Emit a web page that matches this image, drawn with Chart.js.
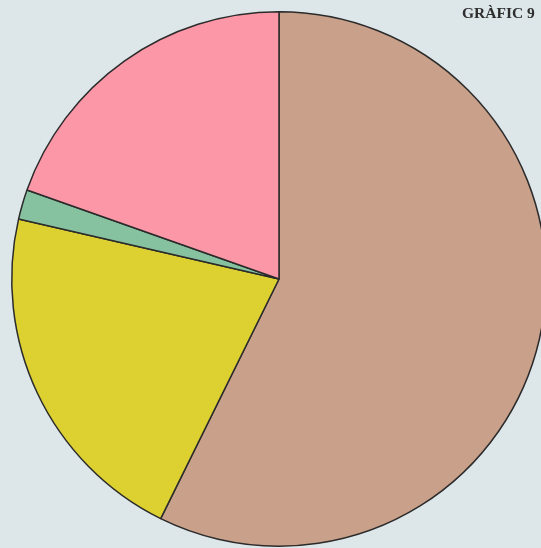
<!DOCTYPE html>
<html lang="ca">
<head>
    <meta charset="UTF-8">
    <title>Gràfic 9</title>
    <script src="https://cdn.jsdelivr.net/npm/chart.js"></script>
    <style>
        html, body { margin: 0; padding: 0; width: 541px; height: 548px; overflow: hidden; background: #dde6e9; }
        #wrap { position: absolute; left: 0; top: 0; width: 558px; height: 558px; }
        #title { position: absolute; left: 462px; top: 4px; font-family: 'Liberation Serif', serif; font-size: 15.5px; font-weight: bold; color: #2e2e2e; white-space: nowrap; }
    </style>
</head>
<body>
    <div id="wrap"><canvas id="pieChart" width="558" height="558"></canvas></div>
    <div id="title">GRÀFIC 9</div>

    <script>
        // Sectors, clockwise from 12 o'clock (percent)
        const categories = ['Marró', 'Groc', 'Verd', 'Rosa'];
        const values = [57.3, 21.3, 1.8, 19.6];
        const colors = ['#c9a089', '#ddd031', '#86c2a0', '#fc97a7'];

        const ctx = document.getElementById('pieChart').getContext('2d');
        new Chart(ctx, {
            type: 'pie',
            data: {
                labels: categories,
                datasets: [{
                    data: values,
                    backgroundColor: colors,
                    borderColor: '#2b2b2b',
                    borderWidth: 1.5
                }]
            },
            options: {
                responsive: false,
                animation: false,
                layout: { padding: 11 },
                plugins: {
                    legend: { display: false },
                    tooltip: { enabled: false }
                }
            }
        });
    </script>
</body>
</html>
